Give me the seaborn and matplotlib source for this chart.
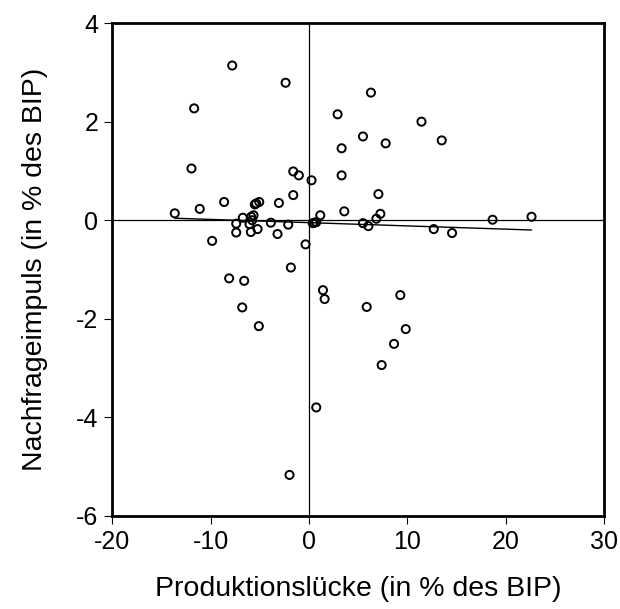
import numpy as np
import pandas as pd
import matplotlib
matplotlib.use("Agg")
import matplotlib.pyplot as plt
import seaborn as sns

# Produktionslücke (x) und Nachfrageimpuls (y), in % des BIP
luecke = [-7.8, -2.37, -11.67, 2.92, 3.33, -11.94, -1.59, -1.02, 0.27, 3.33,
          -1.59, -8.62, -11.1, -13.64, -5.5, -5.36, -5.05, -3.05, 3.6, 1.16,
          -6.72, -5.63, -5.87, -5.77, -6.04, -7.39, -3.87, -2.1, -7.39, -5.9,
          -5.22, -3.19, -9.84, -0.34, 0.55, 0.75, 6.31, 11.45, 5.5, 7.81,
          13.51, 7.07, 7.27, 6.86, 5.5, 6.05, 18.68, 22.64, 12.7, 14.56,
          -1.83, -8.11, -6.58, 1.43, 1.6, -6.78, -5.09, 0.75, -1.97, 5.88,
          9.3, 9.85, 8.66, 7.4, 0.4]
impuls = [3.14, 2.79, 2.27, 2.15, 1.46, 1.05, 0.99, 0.91, 0.81, 0.91,
          0.51, 0.37, 0.23, 0.14, 0.32, 0.34, 0.37, 0.35, 0.18, 0.10,
          0.05, 0.10, 0.07, 0.0, -0.08, -0.07, -0.05, -0.09, -0.25, -0.24,
          -0.18, -0.28, -0.42, -0.49, -0.05, -0.04, 2.59, 2.0, 1.70, 1.56,
          1.62, 0.53, 0.13, 0.03, -0.06, -0.12, 0.01, 0.07, -0.18, -0.26,
          -0.96, -1.18, -1.23, -1.42, -1.60, -1.77, -2.15, -3.80, -5.17, -1.76,
          -1.52, -2.21, -2.51, -2.94, -0.06]

df = pd.DataFrame({"x": luecke, "y": impuls})

sns.set_style("ticks")
plt.rcParams["font.family"] = ["Liberation Sans", "DejaVu Sans"]
plt.rcParams["axes.unicode_minus"] = False

fig = plt.figure(figsize=(6.2, 6.09), dpi=100)
ax = fig.add_axes([0.181, 0.153, 0.793, 0.809])

ax.axhline(0, color="black", lw=0.9, zorder=1)
ax.axvline(0, color="black", lw=0.9, zorder=1)

sns.scatterplot(data=df, x="x", y="y", ax=ax, marker="o", s=34,
                facecolor="none", edgecolor="black", linewidth=1.4, zorder=3)
# lineare Regression
sns.regplot(data=df, x="x", y="y", ax=ax, scatter=False, ci=None,
            line_kws=dict(color="black", lw=1.0, zorder=2))

ax.set_xlim(-20, 30)
ax.set_ylim(-6, 4)
ax.set_xticks([-20, -10, 0, 10, 20, 30])
ax.set_yticks([-6, -4, -2, 0, 2, 4])
ax.tick_params(direction="out", length=6, width=0.8, labelsize=18, pad=4,
               color="black", labelcolor="black")
for s in ax.spines.values():
    s.set_linewidth(2)
    s.set_color("black")
    s.set_visible(True)

ax.set_xlabel("Produktionslücke (in % des BIP)", fontsize=20.5, labelpad=16,
              color="black")
ax.set_ylabel("Nachfrageimpuls (in % des BIP)", fontsize=20.5, labelpad=20,
              color="black")

fig.savefig("out.png", dpi=100)
